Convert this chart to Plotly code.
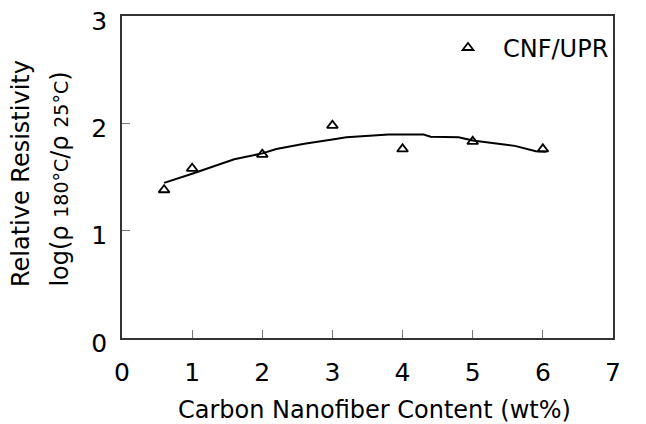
import plotly.graph_objects as go

# Measured data (triangles)
cnf_content = [0.6, 1, 2, 3, 4, 5, 6]
rel_resistivity = [1.38, 1.58, 1.71, 1.98, 1.76, 1.83, 1.76]

# Fitted trend line
fit_x = [0.6, 1.0, 1.6, 2.0, 2.2, 2.6, 3.0, 3.2, 3.8, 4.3, 4.4, 4.8, 5.0, 5.4, 5.6, 5.9, 6.05]
fit_y = [1.445, 1.53, 1.665, 1.72, 1.76, 1.81, 1.85, 1.87, 1.895, 1.895, 1.875, 1.87, 1.84, 1.81, 1.79, 1.74, 1.735]

x_ticks = [0, 1, 2, 3, 4, 5, 6, 7]
y_ticks = [0, 1, 2, 3]

FONT = "DejaVu Sans, Liberation Sans, Arial, sans-serif"

fig = go.Figure()
fig.add_trace(go.Scatter(x=fit_x, y=fit_y, mode="lines",
                         line=dict(color="black", width=2), showlegend=False))
fig.add_trace(go.Scatter(x=cnf_content, y=rel_resistivity, mode="markers", name="CNF/UPR",
                         marker=dict(symbol="triangle-up-open", size=9.5, color="black",
                                     line=dict(width=1.8, color="black"))))

axis_common = dict(showline=True, linecolor="#333", linewidth=1.5, mirror=True,
                   ticks="inside", ticklen=8, tickcolor="#777", tickwidth=1,
                   showgrid=False, zeroline=False, automargin=False,
                   ticklabeloverflow="allow",
                   tickfont=dict(family=FONT, size=25, color="black"))

fig.update_layout(
    width=646, height=424,
    margin=dict(l=114, r=41, t=8, b=94),
    paper_bgcolor="white", plot_bgcolor="white",
    font=dict(family=FONT, color="black"),
    xaxis=dict(range=[0, 7], tickvals=x_ticks, ticklabelstandoff=11, **axis_common),
    yaxis=dict(range=[0, 3], tickvals=y_ticks, ticklabelstandoff=8, ticklabelshift=5,
               **axis_common),
    showlegend=True,
    legend=dict(x=(433 - 122) / 491, y=0.9006, xanchor="left", yanchor="middle",
                bgcolor="rgba(0,0,0,0)", itemwidth=60,
                font=dict(family=FONT, size=24)),
    annotations=[
        dict(text="Carbon Nanofiber Content (wt%)", xref="paper", yref="paper",
             x=0.515, y=-0.2236, xanchor="center", yanchor="middle", showarrow=False,
             font=dict(family=FONT, size=24)),
        dict(text="Relative Resistivity", xref="paper", yref="paper", textangle=-90,
             x=-0.2057, y=0.509, xanchor="center", yanchor="middle", showarrow=False,
             font=dict(family=FONT, size=24)),
        dict(text="log(ρ <span style='font-size:19px'>180°C</span>/ρ <span style='font-size:19px'>25°C</span>)",
             xref="paper", yref="paper", textangle=-90,
             x=-0.1263, y=0.495, xanchor="center", yanchor="middle", showarrow=False,
             font=dict(family=FONT, size=24)),
    ],
)
fig.write_html("out.html")
